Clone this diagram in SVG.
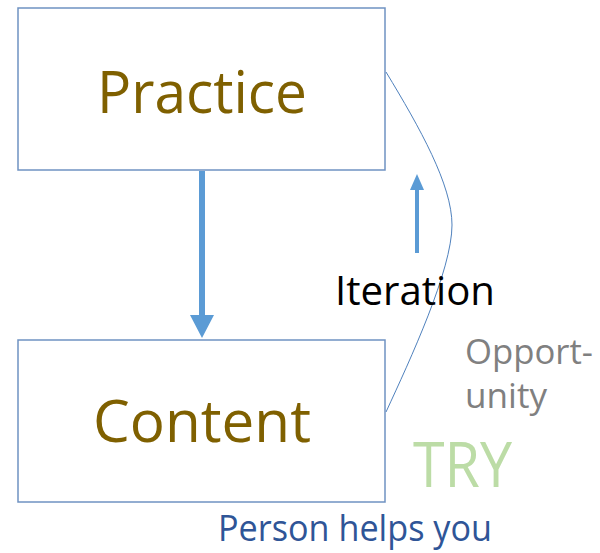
<svg xmlns="http://www.w3.org/2000/svg" width="600" height="553" viewBox="0 0 600 553">
<defs>
<style>
.box{fill:#fff;stroke:#6F92C2;stroke-width:1.5}
.lbl{font-family:"Open Sans","Noto Sans",sans-serif;fill:#7F6000;font-size:58px;text-anchor:middle}
.txt{font-family:"Open Sans","Noto Sans",sans-serif}
.arrow{fill:#5B9BD5}
</style>
</defs>
<rect width="600" height="553" fill="#fff"/>
<g id="connectors">
<path d="M386,72 C420,128 452,185 452,225 C452,270 410,360 386,412" fill="none" stroke="#4F81BD" stroke-width="1"/>
<path class="arrow" d="M199,171 H205 V315 H214 L202,338 L190,315 H199 Z"/>
<path class="arrow" d="M415,253 V190 H410 L417,174 L424,190 H419 V253 Z"/>
</g>
<g id="practice">
<rect class="box" x="18" y="8" width="367" height="162"/>
<text class="lbl" x="202" y="113" textLength="210" lengthAdjust="spacingAndGlyphs">Practice</text>
</g>
<g id="content">
<rect class="box" x="18" y="340" width="367" height="162"/>
<text class="lbl" x="202" y="442" textLength="218" lengthAdjust="spacingAndGlyphs">Content</text>
</g>
<g id="labels">
<text class="txt" x="335" y="305" font-size="40" fill="#000" textLength="160" lengthAdjust="spacingAndGlyphs">Iteration</text>
<text class="txt" x="465" y="364" font-size="35" fill="#808080" textLength="128" lengthAdjust="spacingAndGlyphs">Opport-</text>
<text class="txt" x="465" y="408" font-size="35" fill="#808080" textLength="82" lengthAdjust="spacingAndGlyphs">unity</text>
<text class="txt" x="413" y="487" font-size="62" fill="#BCDCA6" textLength="99" lengthAdjust="spacingAndGlyphs">TRY</text>
<text class="txt" x="218" y="541" font-size="36" fill="#2F5597" textLength="274" lengthAdjust="spacingAndGlyphs">Person helps you</text>
</g>
</svg>
